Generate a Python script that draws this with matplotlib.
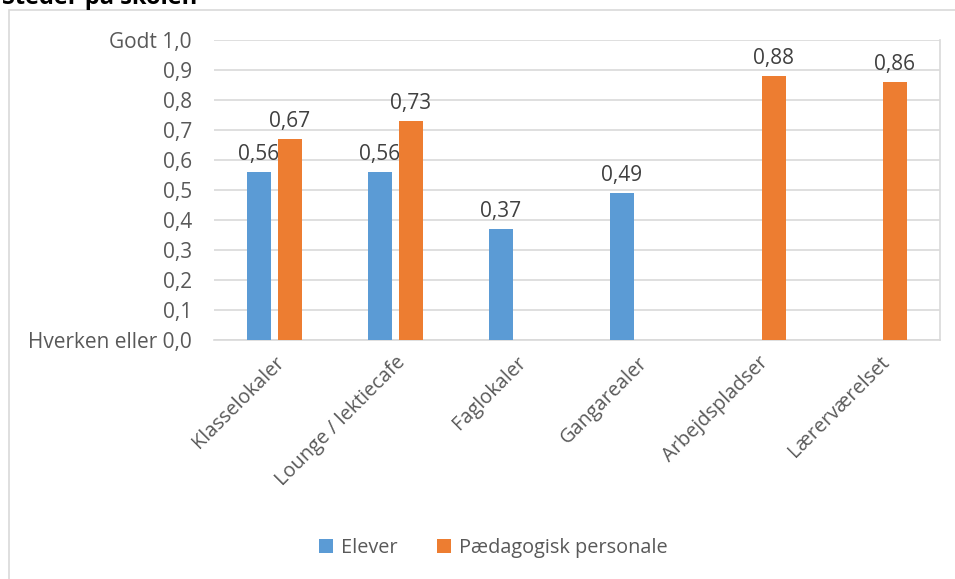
import numpy as np
import matplotlib.pyplot as plt
from matplotlib.patches import Rectangle

# data
categories = ['Klasselokaler', 'Lounge / lektiecafe', 'Faglokaler',
              'Gangarealer', 'Arbejdspladser', 'Lærerværelset']
elever = [0.56, 0.56, 0.37, 0.49, None, None]
personale = [0.67, 0.73, None, None, 0.88, 0.86]
tick_vals = [0.0, 0.1, 0.2, 0.3, 0.4, 0.5, 0.6, 0.7, 0.8, 0.9, 1.0]
tick_labels = ['Hverken eller 0,0', '0,1', '0,2', '0,3', '0,4', '0,5',
               '0,6', '0,7', '0,8', '0,9', 'Godt 1,0']

blue = '#5B9BD5'
orange = '#ED7D31'
grey = '#595959'
plt.rcParams['font.family'] = ['Open Sans', 'DejaVu Sans']

W, H = 955, 579
fig = plt.figure(figsize=(W / 100, H / 100), dpi=100)
ax = fig.add_axes([214 / W, 1 - 340 / H, (940 - 214) / W, 300 / H])

# outer chart frame (cropped at right/bottom)
fig.patches.append(Rectangle((9 / W, -0.1), 1.2, 1 - 10 / H + 0.1,
                             transform=fig.transFigure, fill=False,
                             edgecolor='#D9D9D9', linewidth=1.2))

x = np.arange(len(categories))
bw = 0.2
off = 0.128


def draw(vals, dx, color, label):
    xs = [xi + dx for xi, v in zip(x, vals) if v is not None]
    vs = [v for v in vals if v is not None]
    bars = ax.bar(xs, vs, bw, color=color, label=label, zorder=3)
    for b, v in zip(bars, vs):
        ax.text(b.get_x() + b.get_width() / 2, v + 0.022,
                ('%.2f' % v).replace('.', ','), ha='center', va='bottom',
                fontsize=15, color='#404040')
    return bars


draw(elever, -off, blue, 'Elever')
draw(personale, off, orange, 'Pædagogisk personale')

ax.set_xlim(-0.5, len(categories) - 0.5)
ax.set_ylim(0, 1.0)
ax.set_yticks(tick_vals)
ax.set_yticklabels(tick_labels, fontsize=15, color=grey)
ax.set_xticks(x)
ax.set_xticklabels(categories, rotation=45, ha='right', rotation_mode='anchor',
                   fontsize=14.3, color=grey)
ax.tick_params(axis='y', length=0, pad=16)
ax.tick_params(axis='x', length=0, pad=9)
ax.yaxis.grid(True, color='#D9D9D9', linewidth=1.2, zorder=0)
for s in ['left', 'top']:
    ax.spines[s].set_visible(False)
ax.spines['bottom'].set_color('#D9D9D9')
ax.spines['bottom'].set_linewidth(1.2)
ax.spines['right'].set_color('#D9D9D9')
ax.spines['right'].set_linewidth(1.2)

fig.legend(loc='center', bbox_to_anchor=(493 / W, 1 - 548 / H), ncol=2,
           frameon=False, fontsize=14.3, handlelength=0.7, handleheight=0.7,
           columnspacing=2.0, handletextpad=0.4, labelcolor=grey)

# title, cut off at top in the reference
fig.text(2 / W, 1 - 4 / H, 'Steder på skolen', fontsize=17, fontweight='bold',
         ha='left', va='baseline', color='black')

fig.savefig('out.png', dpi=100)
